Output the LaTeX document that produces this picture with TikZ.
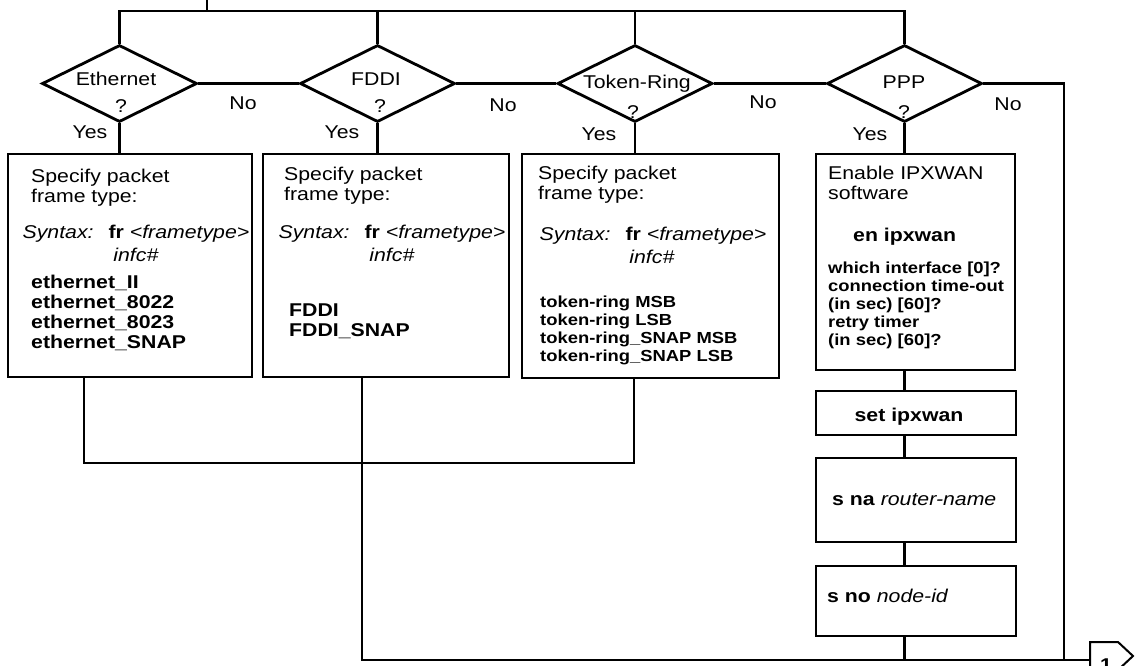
\documentclass[tikz,border=0pt]{standalone}
\usepackage{fontspec}
\setmainfont[FakeStretch=1.15]{Liberation Sans}
\usetikzlibrary{shapes.geometric}

\newcommand{\frline}{\textit{Syntax:}\hspace{15pt}\textbf{fr} \textit{<frametype>}}

\tikzset{
	wire/.style={line width=2.8pt},
	decision/.style={diamond, draw, line width=2.8pt, minimum width=155pt, minimum height=77pt, inner sep=0pt},
	stepbox/.style={rectangle, draw, line width=2.8pt, inner sep=0pt},
	txt/.style={inner sep=0pt, anchor=base, font=\fontsize{18.5}{20}\selectfont},
	headtxt/.style={txt, align=left, anchor=base west},
	boldtxt/.style={txt, align=left, font=\fontsize{18.5}{20}\selectfont\bfseries},
	listtxt/.style={inner sep=0pt, align=left, anchor=base west, font=\fontsize{16}{18}\selectfont\bfseries},
}

\begin{document}
\begin{tikzpicture}[x=1pt, y=-1pt]
		\useasboundingbox (0,0) rectangle (1137,665);
		
		%decisions
		\node[decision] (eth) at (119.5,83.5) {};
		\node[decision] (fddi) at (377.5,83.5) {};
		\node[decision] (tr) at (635,83.5) {};
		\node[decision] (ppp) at (904.5,83.5) {};
		\node[txt] (ethq) at (116,85) {Ethernet};
		\node[txt] (ethqm) at (121,112) {?};
		\node[txt] (fddiq) at (376,85) {FDDI};
		\node[txt] (fddiqm) at (380,112) {?};
		\node[txt] (trq) at (637,88) {Token-Ring};
		\node[txt] (trqm) at (633,118) {?};
		\node[txt] (pppq) at (904,88) {PPP};
		\node[txt] (pppqm) at (904,118) {?};
		
		%top bus
		\coordinate (entry) at (207,0);
		\coordinate (bus) at (207,11);
		\draw[wire] (entry) -- (bus);
		\draw[wire] (eth.north) -- (eth.north |- bus) -- (ppp.north |- bus) -- (ppp.north);
		\draw[wire] (fddi.north) -- (fddi.north |- bus);
		\draw[wire] (tr.north) -- (tr.north |- bus);
		
		%no branches
		\coordinate (noline) at (1064,660);
		\draw[wire] (eth.east) -- (fddi.west);
		\draw[wire] (fddi.east) -- (tr.west);
		\draw[wire] (tr.east) -- (ppp.west);
		\draw[wire] (ppp.east) -- (ppp.east -| noline) -- (noline);
		\node[txt] (ethno) at (243,109) {No};
		\node[txt] (fddino) at (503,111) {No};
		\node[txt] (trno) at (763,108) {No};
		\node[txt] (pppno) at (1008,110) {No};
		
		%boxes
		\node[stepbox, minimum width=244pt, minimum height=223pt] (ethbox) at (130,265.5) {};
		\node[stepbox, minimum width=246pt, minimum height=223pt] (fddibox) at (386,265.5) {};
		\node[stepbox, minimum width=257pt, minimum height=224pt] (trbox) at (650.5,266) {};
		\node[stepbox, minimum width=199pt, minimum height=216pt] (pppbox) at (915.5,262) {};
		\node[stepbox, minimum width=200pt, minimum height=44pt] (setbox) at (916,413) {};
		\node[stepbox, minimum width=200pt, minimum height=84pt] (namebox) at (916,500) {};
		\node[stepbox, minimum width=200pt, minimum height=70pt] (nodebox) at (916,601) {};
		
		%yes branches
		\draw[wire] (eth.south) -- (eth.south |- ethbox.north);
		\draw[wire] (fddi.south) -- (fddi.south |- fddibox.north);
		\draw[wire] (tr.south) -- (tr.south |- trbox.north);
		\draw[wire] (ppp.south) -- (ppp.south |- pppbox.north);
		\node[txt] (ethyes) at (90,138) {Yes};
		\node[txt] (fddiyes) at (342,138) {Yes};
		\node[txt] (tryes) at (599,140) {Yes};
		\node[txt] (pppyes) at (870,140) {Yes};
		
		%frame type texts (base = last line)
		\node[headtxt] (ethhead) at (31,202) {Specify packet\\frame type:};
		\node[txt] (ethsyn) at (136,238) {\frline};
		\node[txt] (ethinfc) at (136,261) {\textit{infc\#}};
		\node[boldtxt, anchor=base west] (ethlist) at (31,348) {ethernet\_II\\ethernet\_8022\\ethernet\_8023\\ethernet\_SNAP};
		
		\node[headtxt] (fddihead) at (284,200) {Specify packet\\frame type:};
		\node[txt] (fddisyn) at (392,238) {\frline};
		\node[txt] (fddiinfc) at (392,261) {\textit{infc\#}};
		\node[boldtxt, anchor=base west] (fddilist) at (289,336) {FDDI\\FDDI\_SNAP};
		
		\node[headtxt] (trhead) at (538,199) {Specify packet\\frame type:};
		\node[txt] (trsyn) at (653,240) {\frline};
		\node[txt] (trinfc) at (652,263) {\textit{infc\#}};
		\node[listtxt] (trlist) at (540,361) {token-ring MSB\\token-ring LSB\\token-ring\_SNAP MSB\\token-ring\_SNAP LSB};
		
		%ipxwan chain
		\node[headtxt] (ppphead) at (828,199) {Enable IPXWAN\\software};
		\node[boldtxt, anchor=base west] (pppcmd) at (853,241) {en ipxwan};
		\node[listtxt] (ppplist) at (828,345) {which interface [0]?\\connection time-out\\(in sec) [60]?\\retry timer\\(in sec) [60]?};
		\node[boldtxt] (settxt) at (909,421) {set ipxwan};
		\node[txt, anchor=base west] (nametxt) at (832,505) {\textbf{s na} \textit{router-name}};
		\node[txt, anchor=base west] (nodetxt) at (827,602) {\textbf{s no} \textit{node-id}};
		\draw[wire] (pppbox.south -| ppp.south) -- (setbox.north -| ppp.south);
		\draw[wire] (setbox.south -| ppp.south) -- (namebox.north -| ppp.south);
		\draw[wire] (namebox.south -| ppp.south) -- (nodebox.north -| ppp.south);
		
		%merge to page connector
		\coordinate (m1) at (84,463);
		\coordinate (m3) at (634,463);
		\coordinate (join) at (362,660);
		\coordinate (conn) at (1090,660);
		\draw[line width=2pt] (1090,642) -- (1118,642) -- (1133,656) -- (1118,670) -- (1090,670) -- cycle;
		\node[boldtxt] (connnum) at (1106,671) {1};
		\draw[wire] (ethbox.south -| m1) -- (m1) -- (m3) -- (trbox.south -| m3);
		\draw[wire] (fddibox.south -| join) -- (join) -- (conn);
		\draw[wire] (nodebox.south -| ppp.south) -- (ppp.south |- join);
\end{tikzpicture}
\end{document}
